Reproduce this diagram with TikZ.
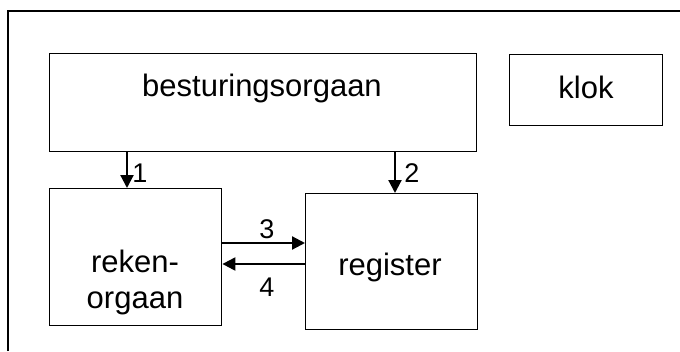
\documentclass[tikz,border=0pt]{standalone}
\usepackage{fontspec}
\setmainfont{Liberation Sans}
\usetikzlibrary{arrows.meta}
\tikzset{
  box/.style={draw=black, line width=1.4pt, rectangle, inner sep=0pt, anchor=north west},
  txt/.style={anchor=base, inner sep=0pt, font=\fontsize{31}{37}\selectfont},
  num/.style={anchor=base, inner sep=0pt, font=\fontsize{27}{32}\selectfont},
  arr/.style={line width=2.2pt, -{Triangle[length=13pt,width=13pt]}},
}
\begin{document}
\begin{tikzpicture}[x=1pt,y=1pt]
\useasboundingbox (0,0) rectangle (680,-351);
\fill[white] (0,0) rectangle (680,-351);
% outer frame (partly outside the view)
\coordinate (fbl) at (8,-351);
\coordinate (ftl) at (8,-11);
\coordinate (ftr) at (680,-11);
\draw[line width=1.4pt] (fbl) -- (ftl) -- (ftr);
% boxes
\node[box, minimum width=427pt, minimum height=98pt] (bo) at (49,-53) {};
\node[box, minimum width=153pt, minimum height=71pt] (klok) at (509,-54) {};
\node[box, minimum width=172pt, minimum height=137pt] (rek) at (49,-188) {};
\node[box, minimum width=172pt, minimum height=136pt] (reg) at (305,-193) {};
% texts
\node[txt] (tbo) at (262,-96) {besturingsorgaan};
\node[txt] (tklok) at (586,-98) {klok};
\node[txt] (trek1) at (135,-272) {reken-};
\node[txt] (trek2) at (135,-308) {orgaan};
\node[txt] (treg) at (390,-275) {register};
% arrows
\draw[arr] ([xshift=78pt]bo.south west) -- ([xshift=78pt]rek.north west);
\draw[arr] ([xshift=346pt]bo.south west) -- ([xshift=90pt]reg.north west);
\draw[arr] ([yshift=-55pt]rek.north east) -- ([yshift=-50pt]reg.north west);
\draw[arr] ([yshift=-71pt]reg.north west) -- ([yshift=-76pt]rek.north east);
% labels
\node[num] (l1) at (140,-182) {1};
\node[num] (l2) at (412,-182) {2};
\node[num] (l3) at (267,-238) {3};
\node[num] (l4) at (267,-296) {4};
\end{tikzpicture}
\end{document}
